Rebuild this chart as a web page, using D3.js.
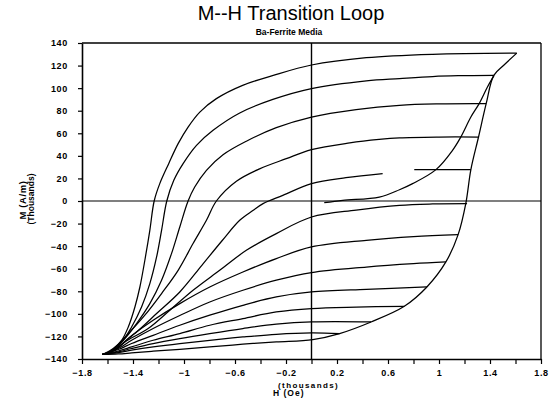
<!DOCTYPE html>
<html>
<head>
<meta charset="utf-8">
<script src="https://cdn.jsdelivr.net/npm/d3@7"></script>
<style>
body { margin: 0; background: #fff; }
text { font-family: "Liberation Sans", Arial, sans-serif; fill: #000; }
</style>
</head>
<body>
<div id="vis"></div>
<script>
//Data: [H (thousand Oe), M (thousand A/m)]
var majorDescending = [[-1.64,-136],[-1.555,-130.7],[-1.489,-123.4],[-1.437,-111.6],[-1.385,-93.9],[-1.346,-76.2],
  [-1.307,-52.5],[-1.268,-26],[-1.234,0],[-1.19,15.4],[-1.12,33.1],[-1.046,50.8],[-0.968,65.5],[-0.876,78.8],
  [-0.746,90.7],[-0.54,102.5],[-0.3,111.3],[0,120.5],[0.43,127],[0.95,130],[1.61,131]];
var recoil2 = [[-1.64,-136],[-1.607,-135.2],[-1.489,-124.9],[-1.411,-111.6],[-1.333,-93.9],[-1.268,-73.2],
  [-1.215,-49.6],[-1.176,-26],[-1.135,0],[-1.08,18.3],[-1.007,33.1],[-0.902,49.3],[-0.772,62.6],[-0.563,78],
  [-0.303,90],[0,99.6],[0.43,106.5],[0.69,108.5],[0.95,110.3],[1.15,111],[1.43,111.3]];
var recoil3 = [[-1.64,-136],[-1.594,-134.6],[-1.476,-123.4],[-1.372,-108.6],[-1.268,-90.9],[-1.176,-70.2],
  [-1.098,-46.6],[-1.033,-23],[-0.968,0],[-0.916,12.4],[-0.824,27.2],[-0.694,41],[-0.511,53],[-0.276,65],
  [0,74.4],[0.35,81],[0.69,84.8],[1.0,86],[1.37,86.2]];
var recoil4 = [[-1.64,-136],[-1.581,-133.7],[-1.437,-117.5],[-1.307,-101.2],[-1.176,-82],[-1.046,-61.4],
  [-0.929,-37.7],[-0.824,-17.1],[-0.746,0],[-0.589,17.5],[-0.407,28.5],[-0.198,37.5],[0,45.5],[0.3,51.5],
  [0.53,54.6],[0.69,56],[1.0,56.7],[1.31,56.7]];
var recoil5 = [[-1.64,-136],[-1.555,-132.2],[-1.372,-116],[-1.215,-99.7],[-1.033,-80.6],[-0.86,-57],
  [-0.7,-35],[-0.563,-17.1],[-0.46,-8.5],[-0.38,-2.3],[-0.225,5],[0,15.4],[0.27,20.7],[0.558,24.3]];
var recoil5Tail = [[0.806,27.8],[1.25,27.8]];
var recoil6 = [[-1.64,-136],[-1.542,-132.2],[-1.463,-124.9],[-1.281,-113],[-1.111,-96.8],[-0.929,-79.1],
  [-0.72,-61.4],[-0.511,-43.7],[-0.276,-28.9],[0,-14.2],[0.35,-8],[0.69,-3.8],[0.95,-2.6],[1.22,-2.3]];
var recoil7 = [[-1.64,-136],[-1.529,-130.7],[-1.424,-120.5],[-1.242,-105.7],[-1.033,-90.9],[-0.798,-76.2],
  [-0.538,-62.9],[-0.276,-51],[0,-40.7],[0.43,-34.8],[0.8,-31.5],[1.15,-29.8]];
var recoil8 = [[-1.64,-136],[-1.516,-130.7],[-1.411,-123.4],[-1.242,-113],[-1.033,-101.5],[-0.798,-89.5],
  [-0.538,-79.1],[-0.276,-70.2],[0,-63.4],[0.43,-58.5],[0.8,-55.5],[1.054,-54]];
var recoil9 = [[-1.64,-136],[-1.516,-131.6],[-1.411,-126.3],[-1.242,-119],[-1.033,-110.1],[-0.798,-101.2],
  [-0.538,-92.4],[-0.276,-85],[0,-80.6],[0.43,-78.2],[0.905,-76.2]];
var recoil10 = [[-1.64,-136],[-1.516,-132.9],[-1.411,-129.3],[-1.242,-123.4],[-1.033,-117.5],[-0.798,-110.1],
  [-0.538,-104.2],[-0.276,-98.3],[0,-95.3],[0.35,-94],[0.728,-93.3]];
var recoil11 = [[-1.64,-136],[-1.516,-133.7],[-1.411,-130.7],[-1.242,-126.3],[-1.033,-121.9],[-0.798,-117.5],
  [-0.538,-113],[-0.276,-109.2],[0,-107.2],[0.467,-107.2]];
var recoil12 = [[-1.64,-136],[-1.516,-134.3],[-1.411,-132.2],[-1.242,-129.3],[-1.033,-126.3],[-0.798,-123.4],
  [-0.538,-120.5],[-0.276,-118.1],[0,-116.9],[0.22,-117.5]];
var majorAscending = [[-1.64,-136],[-1.516,-135.5],[-1.411,-134.6],[-1.242,-133.1],[-1.033,-131.4],[-0.798,-129.3],
  [-0.538,-126.9],[-0.276,-124.9],[0.01,-122.8],[0.22,-117.5],[0.467,-107.2],[0.728,-93.3],[0.905,-76.2],
  [1.054,-54],[1.15,-29.8],[1.21,-2.3],[1.25,27.8],[1.31,56.7],[1.37,86.2],[1.43,111.3],[1.51,120.5],[1.61,131]];
var sCurve = [[0.1,-1.5],[0.245,0.6],[0.532,3.5],[0.69,10],[0.793,15.4],[0.976,27.8],[1.106,44.9],[1.171,56.7],
  [1.25,74.4],[1.315,86.3],[1.38,101],[1.432,111.3]];

var curves = [majorDescending, recoil2, recoil3, recoil4, recoil5, recoil5Tail, recoil6, recoil7,
  recoil8, recoil9, recoil10, recoil11, recoil12, majorAscending, sCurve];

var yTicks = [-140,-120,-100,-80,-60,-40,-20,0,20,40,60,80,100,120,140];
var xTicks = [-1.8,-1.6,-1.4,-1.2,-1,-0.8,-0.6,-0.4,-0.2,0,0.2,0.4,0.6,0.8,1,1.2,1.4,1.6,1.8];
var xTickLabels = [-1.8,-1.4,-1,-0.6,-0.2,0.2,0.6,1,1.4,1.8];

var w = 556;
var h = 407;

let svg = d3.select("#vis")
            .append("svg")
            .attr("width", w)
            .attr("height", h);

var x_scale = d3.scaleLinear()
                .domain([-1.8, 1.8])
                .range([82, 541]);

var y_scale = d3.scaleLinear()
                .domain([-140, 140])
                .range([359, 43]);

//Frame, zero lines
svg.append("line")
   .attr("x1", x_scale(-1.8)).attr("x2", x_scale(1.8))
   .attr("y1", y_scale(140)).attr("y2", y_scale(140))
   .attr("stroke", "#000").attr("stroke-width", 1.3);
svg.append("line")
   .attr("x1", x_scale(1.8)).attr("x2", x_scale(1.8))
   .attr("y1", y_scale(140)).attr("y2", y_scale(-140))
   .attr("stroke", "#000").attr("stroke-width", 1.3);
svg.append("line")
   .attr("x1", x_scale(-1.8)).attr("x2", x_scale(1.8))
   .attr("y1", y_scale(0)).attr("y2", y_scale(0))
   .attr("stroke", "#000").attr("stroke-width", 1.2);
svg.append("line")
   .attr("x1", x_scale(0)).attr("x2", x_scale(0))
   .attr("y1", y_scale(140)).attr("y2", y_scale(-140))
   .attr("stroke", "#000").attr("stroke-width", 1.4);

//Axes
var yAxis = svg.append("g")
    .attr("transform", `translate(${x_scale(-1.8)},0)`)
    .call(d3.axisLeft(y_scale).tickValues(yTicks).tickSize(4).tickSizeOuter(0)
            .tickPadding(10).tickFormat(d3.format("d")));

var xAxis = svg.append("g")
    .attr("transform", `translate(0,${y_scale(-140)})`)
    .call(d3.axisBottom(x_scale).tickValues(xTicks).tickSize(5).tickSizeOuter(0).tickPadding(6)
            .tickFormat(d => xTickLabels.some(v => Math.abs(v - d) < 1e-6) ? d3.format("~g")(d) : ""));

[yAxis, xAxis].forEach(a => {
  a.select(".domain").attr("stroke", "#000").attr("stroke-width", 1.6);
  a.selectAll(".tick line").attr("stroke", "#000").attr("stroke-width", 1.2);
  a.selectAll("text")
   .attr("fill", "#000")
   .style("font-family", "'Liberation Sans', Arial, sans-serif")
   .style("font-weight", "bold")
   .style("font-size", "9px")
   .style("letter-spacing", "0.7px");
});

//Curves
var line = d3.line()
             .x(d => x_scale(d[0]))
             .y(d => y_scale(d[1]))
             .curve(d3.curveCatmullRom.alpha(0.5));

svg.append("g")
   .selectAll("path")
   .data(curves)
   .enter()
   .append("path")
   .attr("d", line)
   .attr("fill", "none")
   .attr("stroke", "#000")
   .attr("stroke-width", 1.25);

//Titles
svg.append("text")
   .attr("x", 291).attr("y", 20)
   .attr("text-anchor", "middle")
   .style("font-size", "20px")
   .text("M--H Transition Loop");

svg.append("text")
   .attr("x", 289).attr("y", 35)
   .attr("text-anchor", "middle")
   .style("font-size", "8.5px")
   .style("font-weight", "bold")
   .text("Ba-Ferrite Media");

svg.append("text")
   .attr("transform", "translate(26,200) rotate(-90)")
   .attr("text-anchor", "middle")
   .style("font-size", "9.5px")
   .style("font-weight", "bold")
   .style("letter-spacing", "0.6px")
   .text("M (A/m)");

svg.append("text")
   .attr("transform", "translate(34,199) rotate(-90)")
   .attr("text-anchor", "middle")
   .style("font-size", "8.5px")
   .style("font-weight", "bold")
   .text("(Thousands)");

svg.append("text")
   .attr("x", 278).attr("y", 387.5)
   .style("font-size", "8px")
   .style("font-weight", "bold")
   .style("letter-spacing", "1.4px")
   .text("(thousands)");

svg.append("text")
   .attr("x", 273).attr("y", 396)
   .style("font-size", "8.5px")
   .style("font-weight", "bold")
   .style("letter-spacing", "1px")
   .text("H (Oe)");
</script>
</body>
</html>
